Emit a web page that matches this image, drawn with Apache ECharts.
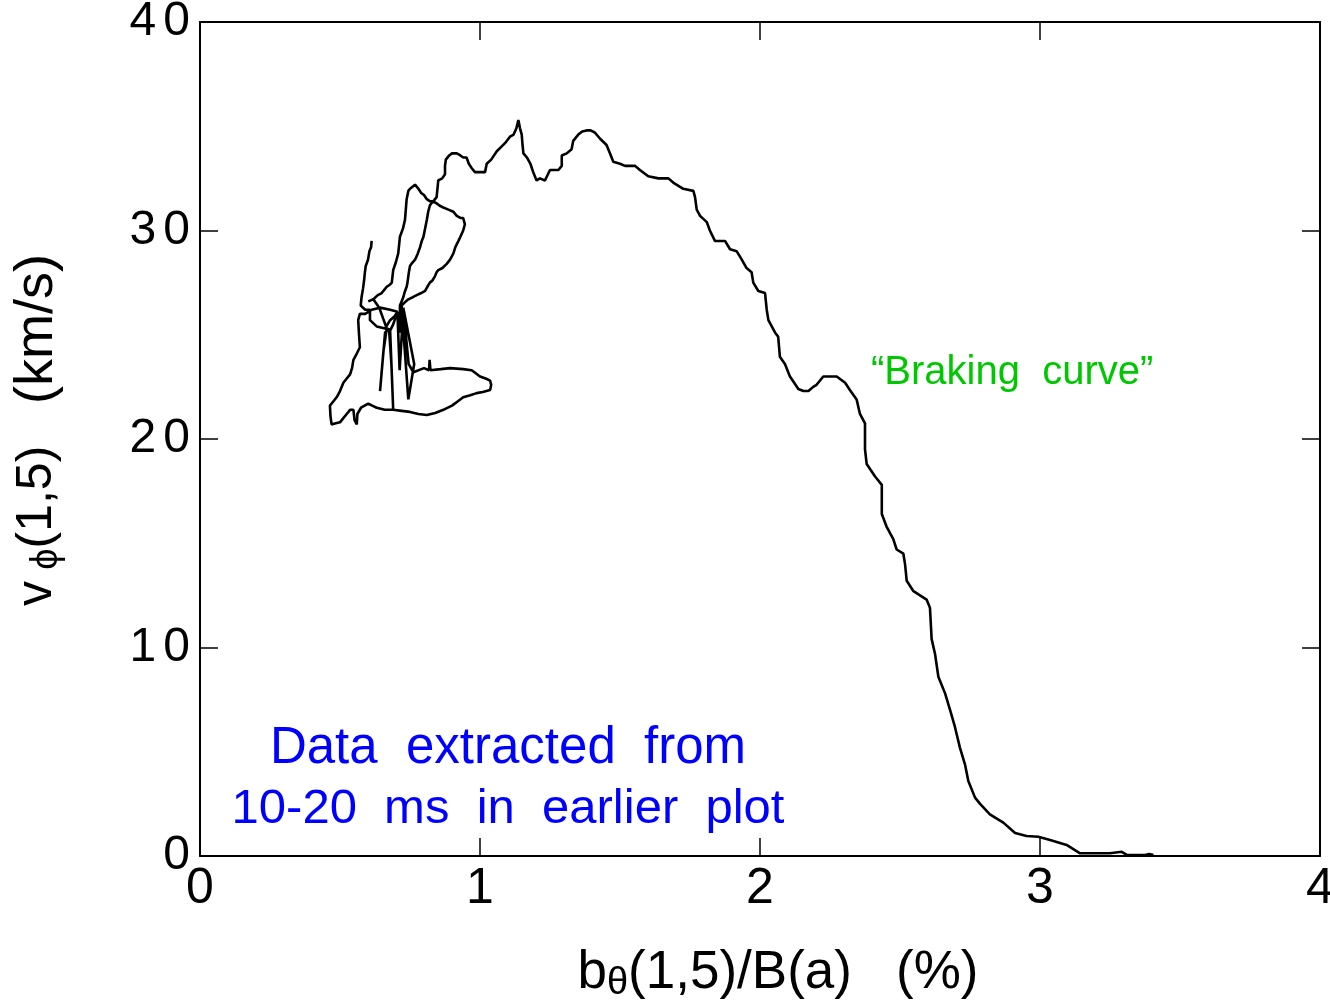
<!DOCTYPE html>
<html>
<head>
<meta charset="utf-8">
<title>Braking curve</title>
<script src="https://cdn.jsdelivr.net/npm/echarts@6/dist/echarts.min.js"></script>
<style>
  html, body { margin: 0; padding: 0; background: #fff; }
  #chart { width: 1330px; height: 1003px; }
</style>
</head>
<body>
<div id="chart"></div>
<script>
// Trajectory of v_phi(1,5) against b_theta(1,5)/B(a), 10-20 ms, in time order.
const bTheta = [
  // left strand, downward
  0.613, 0.611, 0.605, 0.600, 0.592, 0.589, 0.586, 0.582, 0.577, 0.574,
  // small loop
  0.590, 0.607, 0.607, 0.631, 0.661, 0.679, 0.696, 0.705, 0.679, 0.643, 0.613, 0.590, 0.571, 0.565,
  // lower lobe, left side and bottom edge
  0.568, 0.571, 0.560, 0.548, 0.543, 0.536, 0.524, 0.512, 0.500, 0.488, 0.476, 0.464, 0.466, 0.470,
  0.485, 0.500, 0.512, 0.524, 0.536, 0.548, 0.552, 0.560, 0.562, 0.575, 0.601, 0.615, 0.631, 0.660,
  0.690, 0.720, 0.750, 0.780, 0.810, 0.840, 0.869, 0.900, 0.920, 0.940, 0.965, 0.988, 1.010, 1.036,
  // lobe, right end and top edge
  1.040, 1.036, 1.020, 1.000, 0.985, 0.970, 0.940, 0.893, 0.860, 0.823, 0.820, 0.818, 0.800, 0.762,
  // spikes
  0.745, 0.726, 0.765, 0.744, 0.730, 0.720,
  // right branch, upward
  0.735, 0.744, 0.760, 0.774, 0.790, 0.804, 0.812, 0.821, 0.830, 0.839, 0.845, 0.851, 0.866, 0.881,
  0.893, 0.905, 0.912, 0.923, 0.930, 0.940, 0.946, 0.940, 0.930, 0.917, 0.905, 0.887, 0.869, 0.855,
  0.845, 0.833,
  // middle branch, downward
  0.826, 0.821, 0.815, 0.810, 0.804, 0.798, 0.792, 0.786, 0.778, 0.768, 0.755, 0.750, 0.746, 0.744,
  0.741, 0.738, 0.730, 0.726, 0.720, 0.714,
  // spikes
  0.714, 0.726, 0.713, 0.705, 0.690, 0.679, 0.690, 0.684, 0.675, 0.661, 0.643, 0.655, 0.667, 0.640,
  0.619,
  // left branch, upward
  0.601, 0.619, 0.635, 0.649, 0.658, 0.667, 0.678, 0.685, 0.690, 0.700, 0.708, 0.711, 0.714, 0.725,
  0.732, 0.735, 0.738, 0.744, 0.750, 0.768, 0.780, 0.790, 0.800, 0.810, 0.822, 0.833,
  // main excursion
  0.845, 0.848, 0.851, 0.865, 0.875, 0.875, 0.878, 0.890, 0.900, 0.917, 0.930, 0.940, 0.952, 0.960,
  0.970, 0.982, 1.000, 1.018, 1.024, 1.040, 1.060, 1.075, 1.090, 1.107, 1.120, 1.130, 1.137, 1.143,
  1.149, 1.152, 1.155, 1.168, 1.180, 1.190, 1.202, 1.214, 1.232, 1.250, 1.280, 1.292, 1.292, 1.310,
  1.327, 1.333, 1.351, 1.365, 1.381, 1.395, 1.410, 1.429, 1.452, 1.464, 1.476, 1.500, 1.518, 1.536,
  1.554, 1.571, 1.601, 1.637, 1.673, 1.690, 1.726, 1.762, 1.768, 1.774, 1.786, 1.810, 1.821, 1.839,
  1.875, 1.893, 1.917, 1.935, 1.952, 1.970, 1.976, 1.994, 2.018, 2.024, 2.030, 2.054, 2.065, 2.071,
  2.089, 2.107, 2.137, 2.155, 2.173, 2.190, 2.202, 2.226, 2.250, 2.274, 2.304, 2.321, 2.345, 2.357,
  2.375, 2.375, 2.381, 2.411, 2.435, 2.435, 2.452, 2.476, 2.488, 2.512, 2.518, 2.524, 2.548, 2.595,
  2.607, 2.613, 2.625, 2.637, 2.661, 2.679, 2.696, 2.714, 2.732, 2.744, 2.768, 2.786, 2.821, 2.869,
  2.911, 2.952, 2.994, 3.036, 3.095, 3.143, 3.250, 3.256, 3.292, 3.310, 3.375, 3.390, 3.405
];

const vPhi = [
  // left strand, downward
  29.5, 29.2, 29.0, 28.6, 28.3, 28.0, 27.6, 27.2, 26.8, 26.4,
  // small loop
  26.2, 26.2, 25.7, 25.4, 25.3, 25.7, 25.9, 26.1, 26.2, 26.3, 26.2, 26.0, 26.0, 25.7,
  // lower lobe, left side and bottom edge
  25.0, 24.4, 24.1, 23.8, 23.4, 23.1, 22.9, 22.7, 22.3, 22.0, 21.8, 21.6, 21.1, 20.7,
  20.75, 20.8, 21.0, 21.2, 21.4, 21.4, 20.9, 20.7, 21.2, 21.5, 21.7, 21.6, 21.5, 21.4,
  21.4, 21.35, 21.3, 21.2, 21.15, 21.25, 21.4, 21.6, 21.8, 22.0, 22.1, 22.2, 22.25, 22.35,
  // lobe, right end and top edge
  22.6, 22.8, 22.9, 23.0, 23.15, 23.3, 23.35, 23.4, 23.35, 23.3, 23.8, 23.3, 23.4, 23.2,
  // spikes
  23.6, 26.3, 23.6, 21.9, 24.5, 26.4,
  // right branch, upward
  26.6, 26.7, 26.8, 26.9, 27.0, 27.1, 27.3, 27.5, 27.6, 27.8, 28.0, 28.1, 28.2, 28.4,
  28.6, 28.9, 29.2, 29.5, 29.7, 30.0, 30.3, 30.6, 30.6, 30.7, 30.9, 31.0, 31.1, 31.2,
  31.3, 31.4,
  // middle branch, downward
  31.3, 31.2, 30.9, 30.5, 30.1, 29.7, 29.5, 29.2, 28.9, 28.6, 28.4, 28.3, 28.0, 27.8,
  27.5, 27.3, 27.0, 26.8, 26.6, 26.4,
  // spikes
  25.1, 26.2, 23.3, 26.1, 25.5, 25.2, 21.4, 23.5, 25.3, 25.1, 22.3, 24.2, 25.3, 26.3,
  26.7,
  // left branch, upward
  26.6, 26.7, 26.9, 27.0, 27.15, 27.3, 27.4, 27.5, 28.1, 28.5, 28.9, 29.3, 29.7, 30.1,
  30.5, 31.0, 31.5, 31.9, 32.0, 32.2, 32.0, 31.8, 31.7, 31.5, 31.4, 31.4,
  // main excursion
  31.6, 32.0, 32.4, 32.5, 32.7, 33.1, 33.4, 33.6, 33.7, 33.7, 33.6, 33.5, 33.5, 33.2,
  33.0, 32.8, 32.8, 32.8, 33.2, 33.4, 33.8, 34.0, 34.2, 34.5, 34.6, 34.9, 35.3, 34.9,
  34.6, 34.1, 33.7, 33.5, 33.2, 32.8, 32.4, 32.5, 32.4, 32.9, 32.9, 33.1, 33.6, 33.7,
  33.9, 34.3, 34.6, 34.75, 34.8, 34.8, 34.7, 34.4, 34.1, 33.7, 33.3, 33.2, 33.1, 33.1,
  33.1, 32.9, 32.6, 32.5, 32.5, 32.3, 32.0, 31.9, 31.6, 31.0, 30.7, 30.4, 30.0, 29.5,
  29.5, 29.1, 29.0, 28.6, 28.2, 28.0, 27.5, 27.1, 27.0, 26.2, 25.7, 25.1, 24.9, 23.95,
  23.6, 23.0, 22.4, 22.3, 22.3, 22.5, 22.6, 23.0, 23.0, 23.0, 22.7, 22.35, 21.9, 21.2,
  20.75, 19.5, 18.8, 18.2, 17.8, 16.4, 15.8, 15.2, 14.7, 14.5, 14.0, 13.2, 12.7, 12.3,
  11.9, 10.4, 9.7, 8.6, 7.8, 7.0, 6.2, 5.2, 4.4, 3.6, 2.8, 2.5, 2.0, 1.6,
  1.1, 0.96, 0.92, 0.77, 0.53, 0.13, 0.13, 0.2, 0.2, 0.05, 0.05, 0.1, 0.05
];

const xTicks = { min: 0, max: 4, interval: 1 };
const yTicks = { min: 0, max: 40, interval: 10 };

const xAxisName = '{m|b}{s|θ}{m|(1,5)/B(a)   (%)}';
const yAxisName = '{m|v}{g| }{s|ϕ}{m|(1,5)   }{k|(km/s)}';
const noteBraking = '“Braking  curve”';
const noteSource = '{a|Data  extracted  from}\n{b|10-20  ms  in  earlier  plot}';

const FONT = '"Liberation Sans", Arial, Helvetica, sans-serif';

const chart = echarts.init(document.getElementById('chart'), null, { renderer: 'canvas' });

const data = bTheta.map((x, i) => [x, vPhi[i]]);

const lineStyle = { color: '#000', width: 2.6 };
const frameStyle = { color: '#000', width: 2 };
const tickStyle = { color: '#000', width: 1.5 };

function frameAxis(extra) {
  return Object.assign({
    type: 'value',
    axisLine: { show: true, onZero: false, lineStyle: frameStyle },
    axisTick: { show: true, inside: true, length: 18, lineStyle: tickStyle },
    splitLine: { show: false },
    axisLabel: { show: false }
  }, extra);
}

const xNameRich = {
  m: { fontSize: 53, fontFamily: FONT, color: '#000', lineHeight: 60 },
  s: { fontSize: 38, fontFamily: FONT, color: '#000', lineHeight: 24, verticalAlign: 'bottom' }
};
const yNameRich = {
  m: { fontSize: 50, fontFamily: FONT, color: '#000', lineHeight: 58 },
  k: { fontSize: 54, fontFamily: FONT, color: '#000', lineHeight: 58 },
  s: { fontSize: 38, fontFamily: FONT, color: '#000', lineHeight: 24, verticalAlign: 'bottom' },
  g: { fontSize: 40, fontFamily: FONT, lineHeight: 58 }
};

chart.setOption({
  animation: false,
  backgroundColor: '#fff',
  grid: {
    left: 200, right: 10, top: 22, bottom: 147,
    containLabel: false, outerBoundsMode: 'none'
  },
  xAxis: [
    frameAxis(Object.assign({
      position: 'bottom',
      axisLabel: { show: true, fontSize: 50, fontFamily: FONT, color: '#000', margin: 8 },
      name: xAxisName,
      nameLocation: 'middle',
      nameGap: 87,
      nameTextStyle: { rich: xNameRich, padding: [0, 0, 0, 36] }
    }, xTicks)),
    frameAxis(Object.assign({ position: 'top' }, xTicks))
  ],
  yAxis: [
    frameAxis(Object.assign({
      position: 'left',
      axisLabel: {
        show: true, fontSize: 48, fontFamily: FONT, color: '#000', margin: 10,
        formatter: v => String(v).split('').join('{sp| }'),
        rich: { sp: { fontSize: 26, fontFamily: FONT } }
      },
      name: yAxisName,
      nameLocation: 'middle',
      nameRotate: 90,
      nameGap: 134,
      nameTextStyle: { rich: yNameRich, padding: [0, 0, 0, 18] }
    }, yTicks)),
    frameAxis(Object.assign({ position: 'right' }, yTicks))
  ],
  series: [{
    type: 'line',
    xAxisIndex: 0,
    yAxisIndex: 0,
    data: data,
    showSymbol: false,
    symbol: 'none',
    smooth: false,
    lineStyle: lineStyle,
    silent: true
  }],
  graphic: [
    {
      type: 'text',
      x: 871, y: 373,
      style: {
        text: noteBraking, fill: '#00c800', fontSize: 40, fontFamily: FONT,
        textAlign: 'left', textVerticalAlign: 'middle'
      }
    },
    {
      type: 'text',
      x: 508, y: 779,
      style: {
        text: noteSource, fill: '#0000ff', fontFamily: FONT,
        textAlign: 'center', textVerticalAlign: 'middle',
        rich: {
          a: { fontSize: 51, fontFamily: FONT, fill: '#0000ff', lineHeight: 61 },
          b: { fontSize: 49, fontFamily: FONT, fill: '#0000ff', lineHeight: 61 }
        }
      }
    }
  ]
});
</script>
</body>
</html>
